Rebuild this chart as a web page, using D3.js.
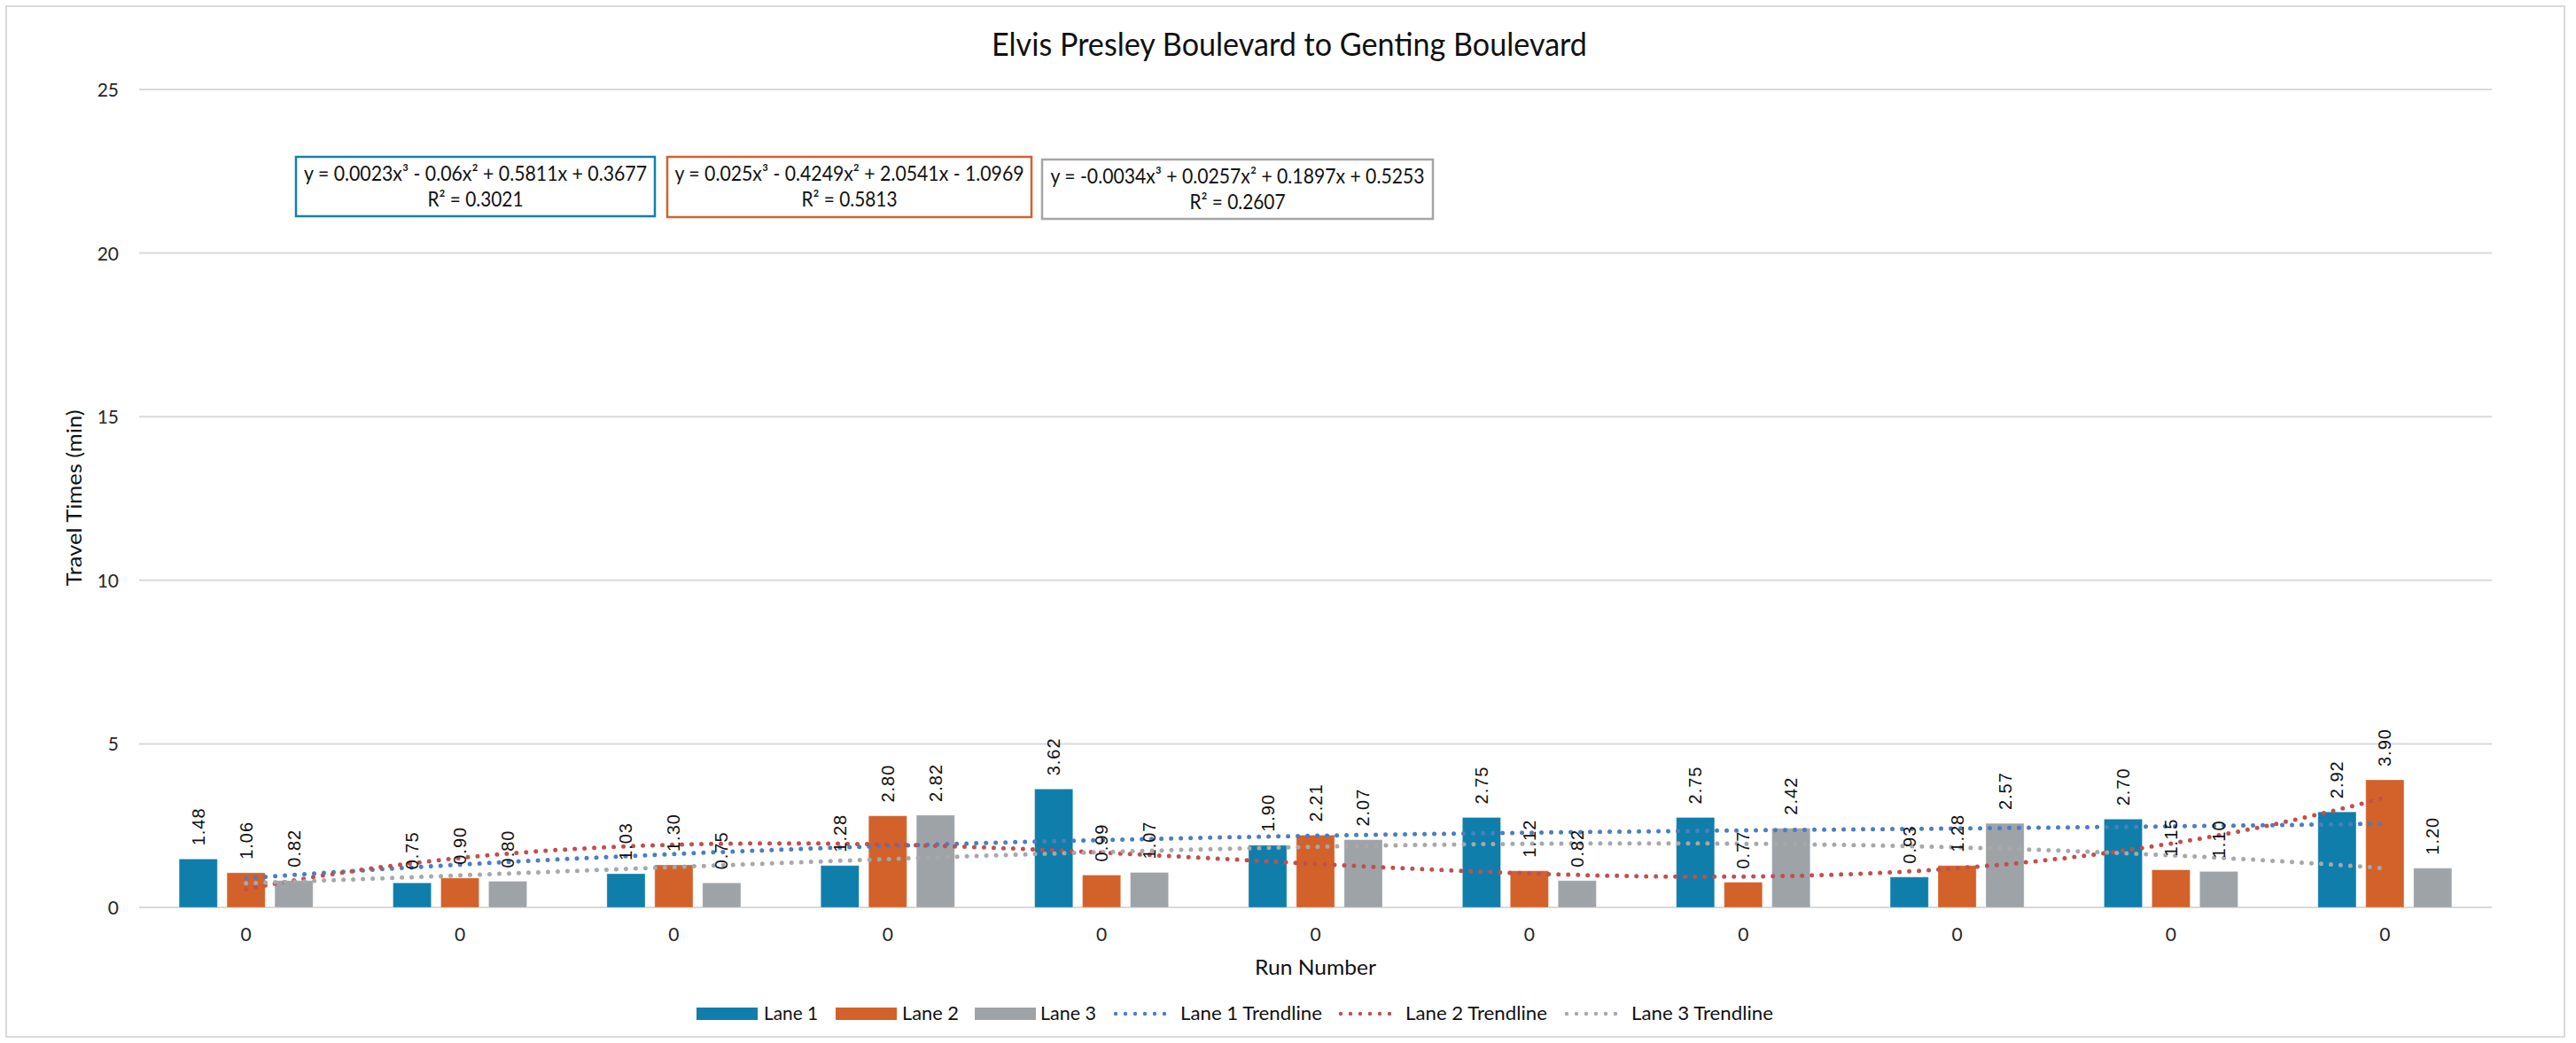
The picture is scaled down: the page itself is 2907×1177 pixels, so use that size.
<!DOCTYPE html>
<html>
<head>
<meta charset="utf-8">
<script src="https://cdn.jsdelivr.net/npm/d3@7"></script>
<style>
  html, body { margin: 0; padding: 0; background: #ffffff; }
  svg { display: block; }
</style>
</head>
<body>
<svg id="chart" width="2907" height="1177"></svg>
<script>
// ---------- data ----------
const chartTitle = "Elvis Presley Boulevard to Genting Boulevard";
const runLabels = ["0", "0", "0", "0", "0", "0", "0", "0", "0", "0", "0"];
const laneNames = ["Lane 1", "Lane 2", "Lane 3"];
const lane1 = [1.48, 0.75, 1.03, 1.28, 3.62, 1.90, 2.75, 2.75, 0.93, 2.70, 2.92];
const lane2 = [1.06, 0.90, 1.30, 2.80, 0.99, 2.21, 1.12, 0.77, 1.28, 1.15, 3.90];
const lane3 = [0.82, 0.80, 0.75, 2.82, 1.07, 2.07, 0.82, 2.42, 2.57, 1.10, 1.20];
const yTicks = [0, 5, 10, 15, 20, 25];
// cubic trendline coefficients [x^3, x^2, x, const], as printed on the chart
const trend1 = [0.0023, -0.06, 0.5811, 0.3677];
const trend2 = [0.025, -0.4249, 2.0541, -1.0969];
const trend3 = [-0.0034, 0.0257, 0.1897, 0.5253];
const eqTexts = [
  "y = 0.0023x³ - 0.06x² + 0.5811x + 0.3677",
  "y = 0.025x³ - 0.4249x² + 2.0541x - 1.0969",
  "y = -0.0034x³ + 0.0257x² + 0.1897x + 0.5253"
];
const r2Texts = ["R² = 0.3021", "R² = 0.5813", "R² = 0.2607"];
const trendNames = ["Lane 1 Trendline", "Lane 2 Trendline", "Lane 3 Trendline"];

// ---------- styles ----------
const barColors = ["#0f7eab", "#d2622a", "#9ea3a8"];
const trendColors = ["#4a7ec3", "#c0504d", "#a6a8aa"];
const uiFont = "Lato, 'Open Sans', sans-serif";
const labelFont = "'Liberation Sans', Arial, sans-serif";

const svg = d3.select("#chart");
const plot = { left: 157, right: 2812, top: 101, bottom: 1024 };

// chart border
svg.append("rect").attr("x", 7).attr("y", 7).attr("width", 2887).attr("height", 1163)
  .attr("fill", "#ffffff").attr("stroke", "#d9d9d9").attr("stroke-width", 2);

// scales
const idx = d3.range(runLabels.length);
const x0 = d3.scaleBand().domain(idx).range([plot.left, plot.right]).paddingInner(0).paddingOuter(0);
const groupW = x0.bandwidth() * 0.626;
const x1 = d3.scaleBand().domain([0, 1, 2]).range([-groupW / 2, groupW / 2]).paddingInner(0.2).paddingOuter(0);
const y = d3.scaleLinear().domain([0, 25]).range([plot.bottom, plot.top]);

// gridlines
svg.append("g").selectAll("line").data(yTicks).join("line")
  .attr("x1", plot.left).attr("x2", plot.right)
  .attr("y1", d => y(d)).attr("y2", d => y(d))
  .attr("stroke", "#d9d9d9").attr("stroke-width", 2);

// y axis (labels only)
const yAxis = d3.axisLeft(y).tickValues(yTicks).tickSize(0).tickPadding(0).tickFormat(d3.format("d"));
const gy = svg.append("g").attr("transform", `translate(${plot.left - 23},0)`).call(yAxis);
gy.select(".domain").remove();
gy.selectAll("text").attr("font-family", uiFont).attr("font-size", 21).attr("fill", "#262626")
  .attr("dy", "0.36em");

// x axis (labels only)
const xAxis = d3.axisBottom(x0).tickSize(0).tickPadding(0).tickFormat(i => runLabels[i]);
const gx = svg.append("g").attr("transform", `translate(0,${plot.bottom + 23})`).call(xAxis);
gx.select(".domain").remove();
gx.selectAll("text").attr("font-family", uiFont).attr("font-size", 21).attr("fill", "#262626")
  .attr("dy", "0.72em");

// bars
const lanes = [lane1, lane2, lane3];
const barsG = svg.append("g");
lanes.forEach((vals, k) => {
  barsG.append("g").selectAll("rect").data(vals).join("rect")
    .attr("x", (d, i) => x0(i) + x0.bandwidth() / 2 + x1(k))
    .attr("width", x1.bandwidth())
    .attr("y", d => y(d))
    .attr("height", d => y(0) - y(d))
    .attr("fill", barColors[k])
    .attr("stroke", "#ffffff").attr("stroke-opacity", 0.35).attr("stroke-width", 1);
});

// trendlines
const xt = d3.scaleLinear().domain([1, runLabels.length])
  .range([x0(0) + x0.bandwidth() / 2, x0(runLabels.length - 1) + x0.bandwidth() / 2]);
const poly = (c, t) => c[0] * t * t * t + c[1] * t * t + c[2] * t + c[3];
const ts = d3.range(1, runLabels.length + 0.0001, 0.05);
const line = d3.line().x(d => xt(d[0])).y(d => y(d[1])).curve(d3.curveLinear);
[trend1, trend2, trend3].forEach((c, k) => {
  svg.append("path")
    .attr("d", line(ts.map(t => [t, poly(c, t)])))
    .attr("fill", "none").attr("stroke", trendColors[k])
    .attr("stroke-width", 5).attr("stroke-linecap", "round")
    .attr("stroke-dasharray", "0 11");
});

// data labels
const fmt = d3.format(".2f");
lanes.forEach((vals, k) => {
  svg.append("g").selectAll("text").data(vals).join("text")
    .attr("transform", (d, i) => {
      const cx = x0(i) + x0.bandwidth() / 2 + x1(k) + x1.bandwidth() / 2;
      return `translate(${cx},${y(d) - 15}) rotate(-90)`;
    })
    .attr("text-anchor", "start")
    .attr("dominant-baseline", "central")
    .attr("font-family", labelFont).attr("font-size", 20)
    .attr("letter-spacing", 1)
    .attr("fill", "#111111")
    .text(d => fmt(d));
});

// title
svg.append("text").attr("x", 1455).attr("y", 63).attr("text-anchor", "middle")
  .attr("font-family", uiFont).attr("font-size", 36).attr("fill", "#111111")
  .attr("textLength", 672).attr("lengthAdjust", "spacingAndGlyphs")
  .text(chartTitle);

// axis titles
svg.append("text").attr("transform", `translate(92,562) rotate(-90)`).attr("text-anchor", "middle")
  .attr("font-family", uiFont).attr("font-size", 23).attr("fill", "#111111")
  .attr("textLength", 199).attr("lengthAdjust", "spacingAndGlyphs")
  .text("Travel Times (min)");
svg.append("text").attr("x", (plot.left + plot.right) / 2).attr("y", 1100).attr("text-anchor", "middle")
  .attr("font-family", uiFont).attr("font-size", 24).attr("fill", "#111111")
  .attr("textLength", 137).attr("lengthAdjust", "spacingAndGlyphs")
  .text("Run Number");

// equation boxes
const boxes = [
  { x: 334, y: 177, w: 405, h: 67, eqW: 387 },
  { x: 753, y: 177, w: 411, h: 68, eqW: 394 },
  { x: 1176, y: 180, w: 441, h: 67, eqW: 422 }
];
const boxColors = ["#1380a9", "#d2622a", "#a5a5a5"];
boxes.forEach((b, k) => {
  svg.append("rect").attr("x", b.x).attr("y", b.y).attr("width", b.w).attr("height", b.h)
    .attr("fill", "#ffffff").attr("stroke", boxColors[k]).attr("stroke-width", 2.5);
  const cx = b.x + b.w / 2;
  svg.append("text").attr("x", cx).attr("y", b.y + 27).attr("text-anchor", "middle")
    .attr("font-family", uiFont).attr("font-size", 23).attr("fill", "#111111")
    .attr("textLength", b.eqW).attr("lengthAdjust", "spacingAndGlyphs")
    .text(eqTexts[k]);
  svg.append("text").attr("x", cx).attr("y", b.y + 56).attr("text-anchor", "middle")
    .attr("font-family", uiFont).attr("font-size", 23).attr("fill", "#111111")
    .attr("textLength", 108).attr("lengthAdjust", "spacingAndGlyphs")
    .text(r2Texts[k]);
});

// legend
const legend = svg.append("g");
const legBase = 1151;
const barLeg = [
  { sx: 786, tx: 862, tw: 61 },
  { sx: 943, tx: 1018, tw: 64 },
  { sx: 1100, tx: 1174, tw: 63 }
];
barLeg.forEach((l, k) => {
  legend.append("rect").attr("x", l.sx).attr("y", 1137).attr("width", 69).attr("height", 14)
    .attr("fill", barColors[k]);
  legend.append("text").attr("x", l.tx).attr("y", legBase)
    .attr("font-family", uiFont).attr("font-size", 22).attr("fill", "#111111")
    .attr("textLength", l.tw).attr("lengthAdjust", "spacingAndGlyphs")
    .text(laneNames[k]);
});
const trLeg = [
  { sx: 1257, tx: 1332, tw: 160 },
  { sx: 1511, tx: 1586, tw: 160 },
  { sx: 1766, tx: 1841, tw: 160 }
];
trLeg.forEach((l, k) => {
  legend.append("line").attr("x1", l.sx + 2).attr("x2", l.sx + 68).attr("y1", 1144).attr("y2", 1144)
    .attr("stroke", trendColors[k]).attr("stroke-width", 4.4).attr("stroke-linecap", "round")
    .attr("stroke-dasharray", "0 11");
  legend.append("text").attr("x", l.tx).attr("y", legBase)
    .attr("font-family", uiFont).attr("font-size", 22).attr("fill", "#111111")
    .attr("textLength", l.tw).attr("lengthAdjust", "spacingAndGlyphs")
    .text(trendNames[k]);
});
</script>
</body>
</html>
